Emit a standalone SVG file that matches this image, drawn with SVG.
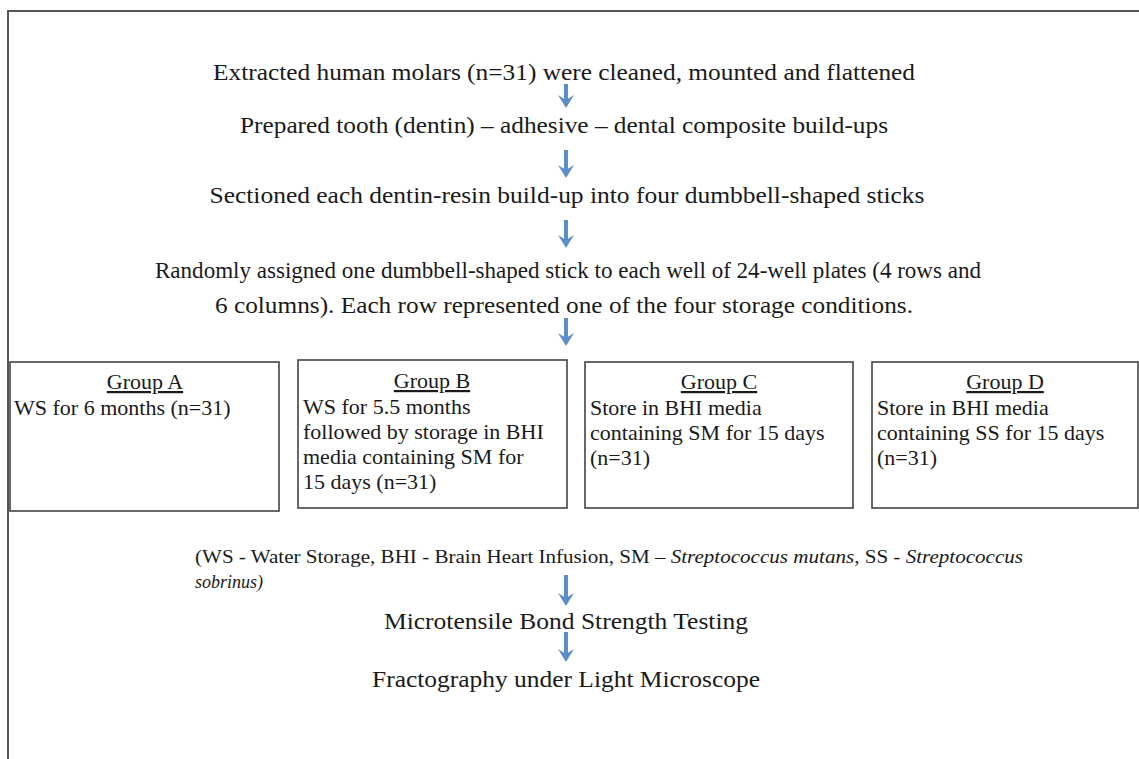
<svg xmlns="http://www.w3.org/2000/svg" width="1139" height="759" viewBox="0 0 1139 759">
<defs>
<style>
.m{font-size:24px;text-anchor:middle}
.g{font-size:22px}
.gh{font-size:22px;text-anchor:middle;text-decoration:underline}
.box{fill:#fff;stroke:#444;stroke-width:1.6}
.shaft{stroke:#5b8ec6;stroke-width:4;fill:none}
.head{fill:#5b8ec6}
</style>
</defs>
<rect width="1139" height="759" fill="#fff"/>
<path d="M8,759 V11 H1139" fill="none" stroke="#555" stroke-width="2"/>

<g id="connectors">
<path class="shaft" d="M566,84 V100"/><path class="head" d="M558,95 L566,108 L574,95 L566,100 Z"/>
<path class="shaft" d="M566,150 V170"/><path class="head" d="M558,165 L566,178 L574,165 L566,170 Z"/>
<path class="shaft" d="M566,220 V240"/><path class="head" d="M558,235 L566,248 L574,235 L566,240 Z"/>
<path class="shaft" d="M566,318 V338"/><path class="head" d="M558,333 L566,346 L574,333 L566,338 Z"/>
<path class="shaft" d="M566,575 V598"/><path class="head" d="M558,593 L566,606 L574,593 L566,598 Z"/>
<path class="shaft" d="M566,632 V654"/><path class="head" d="M558,649 L566,662 L574,649 L566,654 Z"/>
</g>

<g font-family="'Liberation Serif', 'Times New Roman', serif" fill="#1a1a1a">
<g id="step1"><text class="m" x="564" y="80" textLength="702" lengthAdjust="spacingAndGlyphs">Extracted human molars (n=31) were cleaned, mounted and flattened</text></g>
<g id="step2"><text class="m" x="564" y="133" textLength="648" lengthAdjust="spacingAndGlyphs">Prepared tooth (dentin) – adhesive – dental composite build-ups</text></g>
<g id="step3"><text class="m" x="567" y="203" textLength="715" lengthAdjust="spacingAndGlyphs">Sectioned each dentin-resin build-up into four dumbbell-shaped sticks</text></g>
<g id="step4"><text class="m" x="568" y="278" textLength="826" lengthAdjust="spacingAndGlyphs">Randomly assigned one dumbbell-shaped stick to each well of 24-well plates (4 rows and</text>
<text class="m" x="564" y="313" textLength="698" lengthAdjust="spacingAndGlyphs">6 columns). Each row represented one of the four storage conditions.</text></g>

<g id="groupA"><rect class="box" x="10" y="362" width="269" height="149"/>
<text class="gh" x="145" y="389">Group A</text>
<text class="g" x="14" y="415">WS for 6 months (n=31)</text></g>
<g id="groupB"><rect class="box" x="298" y="360" width="269" height="148"/>
<text class="gh" x="432" y="388">Group B</text>
<text class="g" x="303" y="414">WS for 5.5 months</text>
<text class="g" x="303" y="439">followed by storage in BHI</text>
<text class="g" x="303" y="464">media containing SM for</text>
<text class="g" x="303" y="489">15 days (n=31)</text></g>
<g id="groupC"><rect class="box" x="585" y="362" width="268" height="146"/>
<text class="gh" x="719" y="389">Group C</text>
<text class="g" x="590" y="415">Store in BHI media</text>
<text class="g" x="590" y="440">containing SM for 15 days</text>
<text class="g" x="590" y="465">(n=31)</text></g>
<g id="groupD"><rect class="box" x="872" y="362" width="266" height="146"/>
<text class="gh" x="1005" y="389">Group D</text>
<text class="g" x="877" y="415">Store in BHI media</text>
<text class="g" x="877" y="440">containing SS for 15 days</text>
<text class="g" x="877" y="465">(n=31)</text></g>

<g id="legend"><text x="195" y="563" font-size="18" textLength="828" lengthAdjust="spacingAndGlyphs">(WS - Water Storage, BHI - Brain Heart Infusion, SM – <tspan font-style="italic">Streptococcus mutans</tspan>, SS - <tspan font-style="italic">Streptococcus</tspan></text>
<text x="195" y="588" font-size="18" font-style="italic">sobrinus)</text></g>

<g id="step5"><text class="m" x="566" y="629" textLength="364" lengthAdjust="spacingAndGlyphs">Microtensile Bond Strength Testing</text></g>
<g id="step6"><text class="m" x="566" y="687" textLength="388" lengthAdjust="spacingAndGlyphs">Fractography under Light Microscope</text></g>
</g>
</svg>
